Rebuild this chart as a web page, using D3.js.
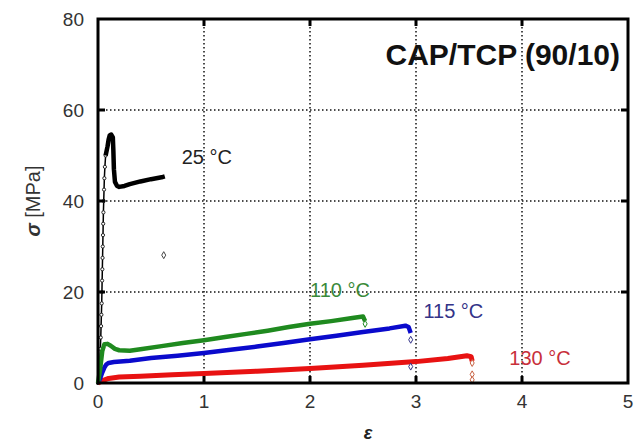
<!DOCTYPE html>
<html><head><meta charset="utf-8">
<script src="https://cdn.jsdelivr.net/npm/d3@7"></script>
<style>body{margin:0;background:#fff}svg{display:block;font-family:"Liberation Sans",Arial,sans-serif}</style>
</head><body>
<svg id="c" width="639" height="445"></svg>
<script>
// ---- data ----
const xTicks = [0,1,2,3,4,5];
const yTicks = [0,20,40,60,80];
const title = "CAP/TCP (90/10)";

const rise25 = [[0,0],[0.012,2.5],[0.018,5],[0.022,7.5],[0.026,10],[0.029,12.5],[0.032,15],[0.035,17.5],[0.037,20],[0.039,22.5],[0.041,25],[0.043,27.5],[0.045,30],[0.047,32.5],[0.049,35],[0.051,37.5],[0.054,40],[0.057,42.5],[0.06,45],[0.065,47.5],[0.072,50]];
const curve25 = [[0.072,50],[0.09,52],[0.1,53.5],[0.11,54.4],[0.125,54.6],[0.14,54.0],[0.145,51],[0.15,47],[0.16,44.2],[0.18,43.3],[0.2,43.1],[0.25,43.3],[0.3,43.7],[0.4,44.3],[0.5,44.8],[0.6,45.2],[0.63,45.4]];
const curve110 = [[0,0],[0.02,3],[0.04,7],[0.06,8.5],[0.09,8.6],[0.12,8.2],[0.16,7.5],[0.2,7.2],[0.3,7.1],[0.4,7.4],[0.6,8.1],[0.8,8.8],[1.0,9.4],[1.2,10.1],[1.4,10.8],[1.6,11.5],[1.8,12.3],[2.0,13.0],[2.2,13.6],[2.4,14.3],[2.5,14.6],[2.52,13.6]];
const curve115 = [[0,0],[0.02,1],[0.04,2.3],[0.06,3.4],[0.08,4.1],[0.1,4.4],[0.15,4.6],[0.3,4.9],[0.5,5.5],[0.75,6.0],[1.0,6.6],[1.25,7.3],[1.5,8.0],[1.75,8.8],[2.0,9.6],[2.25,10.4],[2.5,11.2],[2.75,12.0],[2.9,12.6],[2.93,12.3],[2.95,11.0]];
const curve130 = [[0,0],[0.05,0.6],[0.1,1.0],[0.2,1.3],[0.4,1.5],[0.7,1.8],[1.0,2.1],[1.5,2.6],[2.0,3.2],[2.5,3.9],[3.0,4.7],[3.3,5.4],[3.48,6.0],[3.52,5.8],[3.53,4.8]];
const marks25 = [[0.62,28.1]];
const marks110 = [[2.52,13.0]];
const marks115 = [[2.95,9.5],[2.95,3.6]];
const marks130 = [[3.53,4.4],[3.53,1.9],[3.53,0.7]];
const labels = [
  {text:"25 °C", x:0.79, y:48.2, color:"#222"},
  {text:"110 °C", x:2.00, y:18.8, color:"#3a8a3a"},
  {text:"115 °C", x:3.07, y:14.2, color:"#333388"},
  {text:"130 °C", x:3.88, y:3.9, color:"#c8303a"}
];

// ---- chart ----
const svg = d3.select("#c");
const x = d3.scaleLinear().domain([0,5]).range([98,628]);
const y = d3.scaleLinear().domain([0,80]).range([383,19]);

// grid
const g = svg.append("g");
g.selectAll(".gx").data(xTicks.slice(1,-1)).join("line")
  .attr("x1",d=>x(d)).attr("x2",d=>x(d)).attr("y1",y(80)).attr("y2",y(0))
  .attr("stroke","#111").attr("stroke-width",1.5).attr("stroke-dasharray","1.5,2.5");
g.selectAll(".gy").data(yTicks.slice(1,-1)).join("line")
  .attr("y1",d=>y(d)).attr("y2",d=>y(d)).attr("x1",x(0)).attr("x2",x(5))
  .attr("stroke","#111").attr("stroke-width",1.5).attr("stroke-dasharray","1.5,2.5");

// curves
const line = d3.line().x(d=>x(d[0])).y(d=>y(d[1]));
const series = [
  {data:curve130,color:"#e81212",w:5},
  {data:curve115,color:"#0a0acc",w:4.5},
  {data:curve110,color:"#1f8a1f",w:4.5},
  {data:curve25,color:"#000",w:4.5}
];
svg.append("path").datum(rise25).attr("d",line).attr("fill","none").attr("stroke","#000").attr("stroke-width",1.5);
svg.selectAll(".r25").data(rise25).join("circle")
  .attr("cx",d=>x(d[0])).attr("cy",d=>y(d[1])).attr("r",1.6)
  .attr("fill","#fff").attr("stroke","#222").attr("stroke-width",1);
series.forEach(s=>{
  svg.append("path").datum(s.data).attr("d",line).attr("fill","none")
    .attr("stroke",s.color).attr("stroke-width",s.w).attr("stroke-linejoin","round");
});
const diamond = d3.symbol().type(d3.symbolDiamond).size(14);
[[marks25,"#444"],[marks110,"#1f8a1f"],[marks115,"#333388"],[marks130,"#c86040"]].forEach(([m,c])=>{
  svg.append("g").selectAll("path").data(m).join("path")
    .attr("d",diamond).attr("transform",d=>`translate(${x(d[0])},${y(d[1])})`)
    .attr("fill","#fff").attr("stroke",c).attr("stroke-width",1);
});

// frame
svg.append("rect").attr("x",x(0)).attr("y",y(80)).attr("width",x(5)-x(0)).attr("height",y(0)-y(80))
  .attr("fill","none").attr("stroke","#000").attr("stroke-width",3);
// inward ticks
const tk = svg.append("g").attr("stroke","#000").attr("stroke-width",3);
xTicks.slice(1,-1).forEach(t=>{
  tk.append("line").attr("x1",x(t)).attr("x2",x(t)).attr("y1",y(0)).attr("y2",y(0)-7);
  tk.append("line").attr("x1",x(t)).attr("x2",x(t)).attr("y1",y(80)).attr("y2",y(80)+7);
});
yTicks.slice(1,-1).forEach(t=>{
  tk.append("line").attr("y1",y(t)).attr("y2",y(t)).attr("x1",x(0)).attr("x2",x(0)+7);
  tk.append("line").attr("y1",y(t)).attr("y2",y(t)).attr("x1",x(5)).attr("x2",x(5)-7);
});

// tick labels
svg.append("g").selectAll("text").data(xTicks).join("text")
  .attr("x",d=>x(d)).attr("y",408).attr("text-anchor","middle")
  .attr("font-size",19).attr("fill","#333").text(d=>d);
svg.append("g").selectAll("text").data(yTicks).join("text")
  .attr("x",84).attr("y",d=>y(d)+7).attr("text-anchor","end")
  .attr("font-size",19).attr("fill","#333").text(d=>d);

// axis titles
const yl = svg.append("text").attr("transform","translate(40,201) rotate(-90)")
  .attr("text-anchor","middle").attr("font-size",20).attr("fill","#333");
yl.append("tspan").attr("font-style","italic").attr("font-weight","bold").text("σ");
yl.append("tspan").text(" [MPa]");
svg.append("text").attr("x",368).attr("y",439).attr("text-anchor","middle")
  .attr("font-size",18).attr("font-style","italic").attr("font-weight","bold").attr("fill","#222").text("ε");

// title
svg.append("text").attr("x",620).attr("y",65).attr("text-anchor","end")
  .attr("font-size",30).attr("font-weight","bold").attr("fill","#111").text(title);

// curve labels
svg.append("g").selectAll("text").data(labels).join("text")
  .attr("x",d=>x(d.x)).attr("y",d=>y(d.y)).attr("font-size",20)
  .attr("fill",d=>d.color).text(d=>d.text);
</script>
</body></html>
